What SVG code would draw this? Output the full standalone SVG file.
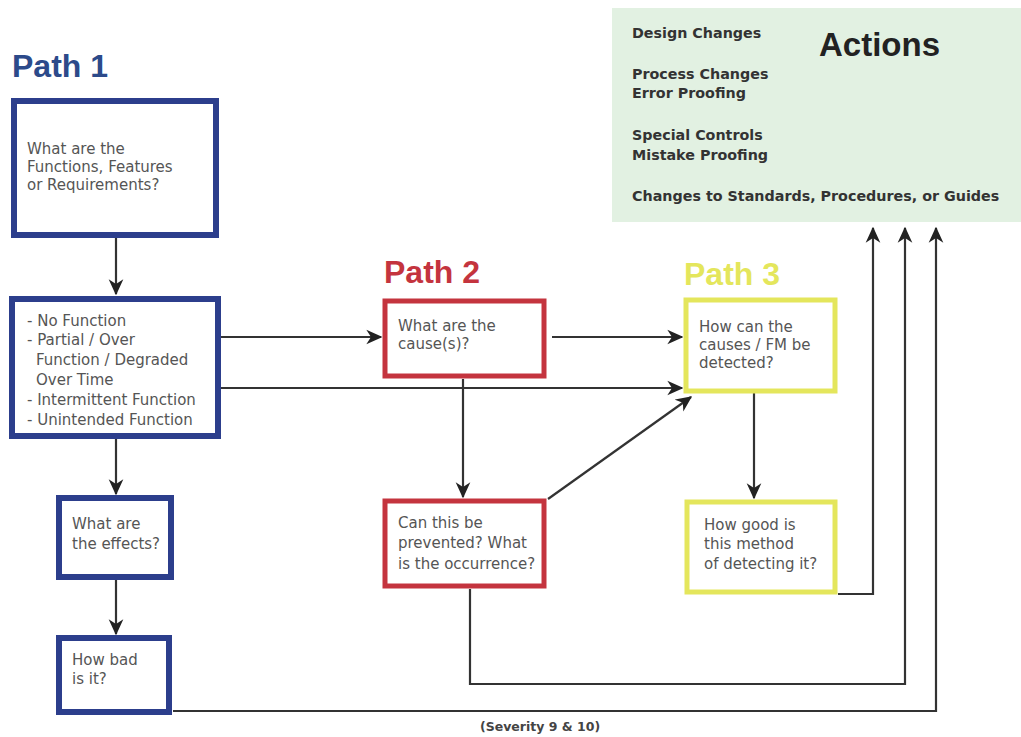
<svg xmlns="http://www.w3.org/2000/svg" width="1021" height="737" viewBox="0 0 1021 737">
<style>
.t{font-family:"DejaVu Sans","Liberation Sans",Arial,sans-serif;font-size:15px;fill:#555}
.b{fill:#fff;stroke:#2c3e8c;stroke-width:6}
.r{fill:#fff;stroke:#c4343e;stroke-width:5}
.y{fill:#fff;stroke:#e4e65c;stroke-width:5}
.h{font-family:"Liberation Sans",Arial,sans-serif;font-size:32px;font-weight:bold}
.a{font-family:"DejaVu Sans","Liberation Sans",Arial,sans-serif;font-size:14.3px;font-weight:bold;fill:#333}
.c{fill:none;stroke:#333;stroke-width:2.2;marker-end:url(#ar)}
</style>
<defs>
<marker id="ar" viewBox="0 0 12 12" refX="11" refY="6" markerWidth="16" markerHeight="16" markerUnits="userSpaceOnUse" orient="auto">
<path d="M0,0.5 L12,6 L0,11.5 L3.5,6 Z" fill="#222"/>
</marker>
</defs>
<rect width="1021" height="737" fill="#fff"/>
<g id="actions">
<rect x="612" y="8" width="409" height="214" fill="#e2f1e2"/>
<text class="a" x="632" y="38">Design Changes</text>
<text class="a" x="632" y="79">Process Changes</text>
<text class="a" x="632" y="98">Error Proofing</text>
<text class="a" x="632" y="140">Special Controls</text>
<text class="a" x="632" y="160">Mistake Proofing</text>
<text class="a" x="632" y="201">Changes to Standards, Procedures, or Guides</text>
<text x="819" y="56" font-family="Liberation Sans,Arial,sans-serif" font-size="33" font-weight="bold" fill="#222">Actions</text>
</g>
<g id="connectors">
<line class="c" x1="116" y1="238" x2="116" y2="294"/>
<line class="c" x1="116" y1="439" x2="116" y2="494"/>
<line class="c" x1="116" y1="580" x2="116" y2="634"/>
<line class="c" x1="221" y1="337" x2="381" y2="337"/>
<line class="c" x1="221" y1="388" x2="682" y2="388"/>
<line class="c" x1="552" y1="337" x2="682" y2="337"/>
<line class="c" x1="463" y1="379" x2="463" y2="497"/>
<line class="c" x1="548" y1="499" x2="691" y2="397"/>
<line class="c" x1="754" y1="393" x2="754" y2="498"/>
<polyline class="c" points="838,594 873,594 873,228"/>
<polyline class="c" points="470,589 470,684 905,684 905,228"/>
<polyline class="c" points="173,711 936,711 936,228"/>
</g>
<g id="path1">
<text class="h" x="12" y="77" fill="#2c4a8a">Path 1</text>
<g id="n1"><rect class="b" x="14" y="101" width="202" height="134"/>
<text class="t" x="27" y="154">What are the</text>
<text class="t" x="27" y="172">Functions, Features</text>
<text class="t" x="27" y="190">or Requirements?</text></g>
<g id="n2"><rect class="b" x="12" y="299" width="206" height="137"/>
<text class="t" x="27" y="326">- No Function</text>
<text class="t" x="27" y="345">- Partial / Over</text>
<text class="t" x="36" y="365">Function / Degraded</text>
<text class="t" x="36" y="385">Over Time</text>
<text class="t" x="27" y="405">- Intermittent Function</text>
<text class="t" x="27" y="425">- Unintended Function</text></g>
<g id="n3"><rect class="b" x="59" y="498" width="112" height="79"/>
<text class="t" x="72" y="529">What are</text>
<text class="t" x="72" y="549">the effects?</text></g>
<g id="n4"><rect class="b" x="59" y="638" width="110" height="74"/>
<text class="t" x="72" y="665">How bad</text>
<text class="t" x="72" y="684">is it?</text></g>
</g>
<g id="path2">
<text class="h" x="384" y="283" fill="#c4343e">Path 2</text>
<g id="n5"><rect class="r" x="385" y="301" width="159" height="75"/>
<text class="t" x="398" y="331">What are the</text>
<text class="t" x="398" y="349">cause(s)?</text></g>
<g id="n6"><rect class="r" x="385" y="501" width="159" height="85"/>
<text class="t" x="398" y="528">Can this be</text>
<text class="t" x="398" y="548">prevented? What</text>
<text class="t" x="398" y="569">is the occurrence?</text></g>
</g>
<g id="path3">
<text class="h" x="684" y="285" fill="#e4e65c">Path 3</text>
<g id="n7"><rect class="y" x="686" y="300" width="149" height="91"/>
<text class="t" x="699" y="332">How can the</text>
<text class="t" x="699" y="350">causes / FM be</text>
<text class="t" x="699" y="368">detected?</text></g>
<g id="n8"><rect class="y" x="687" y="502" width="148" height="90"/>
<text class="t" x="704" y="530">How good is</text>
<text class="t" x="704" y="549">this method</text>
<text class="t" x="704" y="569">of detecting it?</text></g>
</g>
<text x="480" y="731" font-family="DejaVu Sans,Liberation Sans,Arial,sans-serif" font-size="12.5" font-weight="bold" fill="#444">(Severity 9 &amp; 10)</text>
</svg>
